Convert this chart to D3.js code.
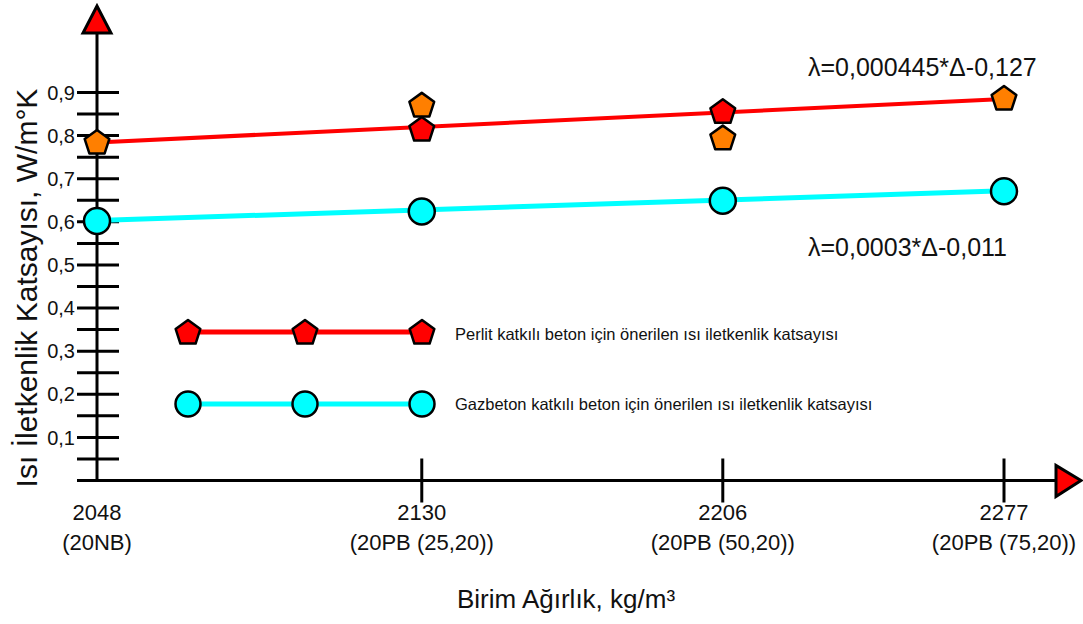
<!DOCTYPE html>
<html>
<head>
<meta charset="utf-8">
<script src="https://cdn.jsdelivr.net/npm/d3@7"></script>
<style>
  html, body { margin: 0; padding: 0; background: #fff; }
  svg { display: block; }
  text { font-family: "Liberation Sans", Arial, sans-serif; fill: #111; }
</style>
</head>
<body>
<svg id="chart" width="1083" height="624"></svg>
<script>
// ---- data ----
const xTickValues = [2048, 2130, 2206, 2277];
const xTickSubLabels = ["(20NB)", "(20PB (25,20))", "(20PB (50,20))", "(20PB (75,20))"];
const yMinorTicks = [0.05, 0.1, 0.15, 0.2, 0.25, 0.3, 0.35, 0.4, 0.45, 0.5, 0.55, 0.6, 0.65, 0.7, 0.75, 0.8, 0.85, 0.9];
const yLabelTicks = [0.1, 0.2, 0.3, 0.4, 0.5, 0.6, 0.7, 0.8, 0.9];

const orangeX = [2048, 2130, 2206, 2277];
const orangeY = [0.783, 0.869, 0.793, 0.885];
const perlitX = [2130, 2206];
const perlitY = [0.813, 0.854];
const gazX = [2048, 2130, 2206, 2277];
const gazY = [0.602, 0.624, 0.649, 0.671];

const perlitTrendX = [2048, 2277];
const perlitTrendY = [0.784, 0.885];
const gazTrendX = [2048, 2277];
const gazTrendY = [0.603, 0.672];

const eqPerlit = "λ=0,000445*Δ-0,127";
const eqGaz = "λ=0,0003*Δ-0,011";
const legendPerlit = "Perlit katkılı beton için önerilen ısı iletkenlik katsayısı";
const legendGaz = "Gazbeton katkılı beton için önerilen ısı iletkenlik katsayısı";
const xTitle = "Birim Ağırlık, kg/m³";
const yTitle = "Isı İletkenlik Katsayısı, W/m°K";

// ---- layout ----
const svg = d3.select("#chart");
const x = d3.scaleLinear().domain([2048, 2277]).range([97, 1004]);
const y = d3.scaleLinear().domain([0, 0.9]).range([480.5, 92.5]);
const fmt = v => d3.format(".1f")(v).replace(".", ",");

const RED = "#ff0000", ORANGE = "#ff7f00", CYAN = "#00ffff";

function pentagonPath(R) {
  const pts = d3.range(5).map(i => {
    const a = -Math.PI / 2 + i * 2 * Math.PI / 5;
    return [R * Math.cos(a), R * Math.sin(a)];
  });
  return "M" + pts.map(p => p.join(",")).join("L") + "Z";
}
const pent = pentagonPath(13);

// ---- axes ----
const axisG = svg.append("g");
const y0 = y(0);
// y axis line
axisG.append("line").attr("x1", x(2048)).attr("x2", x(2048))
  .attr("y1", y0).attr("y2", 33).attr("stroke", "#000").attr("stroke-width", 3);
// y ticks (long, centred on axis)
axisG.selectAll(".ytick").data(yMinorTicks).join("line")
  .attr("x1", x(2048) - 20).attr("x2", x(2048) + 22)
  .attr("y1", d => y(d)).attr("y2", d => y(d))
  .attr("stroke", "#000").attr("stroke-width", 3);
// y labels
axisG.selectAll(".ylab").data(yLabelTicks).join("text")
  .attr("x", 75).attr("y", d => y(d)).attr("dy", "0.36em")
  .attr("text-anchor", "end").style("font-size", "20px")
  .text(d => fmt(d));
// top arrow
axisG.append("path")
  .attr("d", d3.line()([[x(2048), 6], [x(2048) - 14, 33], [x(2048) + 14, 33]]) + "Z")
  .attr("fill", RED).attr("stroke", "#000").attr("stroke-width", 3).attr("stroke-linejoin", "miter");

// x axis line
axisG.append("line").attr("x1", 77).attr("x2", 1056)
  .attr("y1", y0).attr("y2", y0).attr("stroke", "#000").attr("stroke-width", 3);
// x ticks
axisG.selectAll(".xtick").data(xTickValues.slice(1)).join("line")
  .attr("x1", d => x(d)).attr("x2", d => x(d))
  .attr("y1", y0 - 22).attr("y2", y0 + 22)
  .attr("stroke", "#000").attr("stroke-width", 3);
// x labels
const xl = axisG.selectAll(".xlab").data(xTickValues).join("g")
  .attr("transform", d => `translate(${x(d)},0)`);
xl.append("text").attr("y", 520).attr("text-anchor", "middle")
  .style("font-size", "22px").text(d => d);
xl.append("text").attr("y", 550).attr("text-anchor", "middle")
  .style("font-size", "22px").text((d, i) => xTickSubLabels[i]);
// right arrow
axisG.append("path")
  .attr("d", d3.line()([[1081, y0], [1056, y0 - 15], [1056, y0 + 16]]) + "Z")
  .attr("fill", RED).attr("stroke", "#000").attr("stroke-width", 3);

// titles
svg.append("text").attr("x", 566).attr("y", 608).attr("text-anchor", "middle")
  .style("font-size", "26px").text(xTitle);
svg.append("text").attr("transform", "translate(37,288) rotate(-90)")
  .attr("text-anchor", "middle").style("font-size", "30px").text(yTitle);

// ---- trend lines ----
const line = d3.line().x(d => x(d[0])).y(d => y(d[1]));
svg.append("path").attr("d", line(d3.zip(perlitTrendX, perlitTrendY)))
  .attr("fill", "none").attr("stroke", RED).attr("stroke-width", 4);
svg.append("path").attr("d", line(d3.zip(gazTrendX, gazTrendY)))
  .attr("fill", "none").attr("stroke", CYAN).attr("stroke-width", 5);

// ---- markers ----
svg.selectAll(".gaz").data(d3.zip(gazX, gazY)).join("circle")
  .attr("cx", d => x(d[0])).attr("cy", d => y(d[1])).attr("r", 13)
  .attr("fill", CYAN).attr("stroke", "#000").attr("stroke-width", 2.5);
svg.selectAll(".org").data(d3.zip(orangeX, orangeY)).join("path")
  .attr("d", pent).attr("transform", d => `translate(${x(d[0])},${y(d[1])})`)
  .attr("fill", ORANGE).attr("stroke", "#000").attr("stroke-width", 2.5).attr("stroke-linejoin", "round");
svg.selectAll(".per").data(d3.zip(perlitX, perlitY)).join("path")
  .attr("d", pent).attr("transform", d => `translate(${x(d[0])},${y(d[1])})`)
  .attr("fill", RED).attr("stroke", "#000").attr("stroke-width", 2.5).attr("stroke-linejoin", "round");

// ---- equations ----
svg.append("text").attr("x", 808).attr("y", 76).style("font-size", "25px").text(eqPerlit);
svg.append("text").attr("x", 808).attr("y", 256).style("font-size", "25px").text(eqGaz);

// ---- legend ----
const legX = [188, 305, 422];
const leg = svg.append("g");
function legendRow(yy, color, shape, label, ty) {
  leg.append("line").attr("x1", legX[0]).attr("x2", legX[2]).attr("y1", yy).attr("y2", yy)
    .attr("stroke", color).attr("stroke-width", 5);
  legX.forEach(lx => {
    if (shape === "pent") {
      leg.append("path").attr("d", pent).attr("transform", `translate(${lx},${yy + 1})`)
        .attr("fill", color).attr("stroke", "#000").attr("stroke-width", 2.5).attr("stroke-linejoin", "round");
    } else {
      leg.append("circle").attr("cx", lx).attr("cy", yy).attr("r", 12.5)
        .attr("fill", color).attr("stroke", "#000").attr("stroke-width", 2.5);
    }
  });
  leg.append("text").attr("x", 455).attr("y", ty).style("font-size", "16.5px").text(label);
}
legendRow(332, RED, "pent", legendPerlit, 340);
legendRow(404, CYAN, "circle", legendGaz, 410);
</script>
</body>
</html>
